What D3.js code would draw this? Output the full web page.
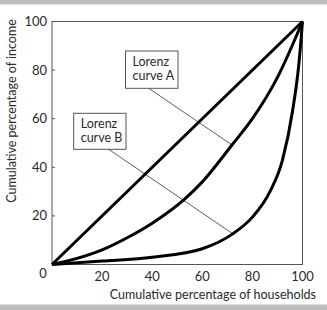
<!DOCTYPE html>
<html><head><meta charset="utf-8">
<script src="https://cdn.jsdelivr.net/npm/d3@7"></script>
<style>body{margin:0;background:#fff}svg{display:block}text{font-family:Lato, "Open Sans", sans-serif;fill:#2a2a2a}</style>
</head><body>
<script>
// Data
const yTicks = [0, 20, 40, 60, 80, 100];
const xTicks = [20, 40, 60, 80, 100];
const equality = [[0,0],[100,100]];
const curveAx = [0, 10, 20, 30, 40, 52.7, 60, 72, 80, 90, 100];
const curveAy = [0, 2.5, 6, 11, 17, 26.7, 34, 49.4, 60, 77, 100];
const curveBx = [0, 20, 40, 60, 72, 80, 87, 92, 96, 98.5, 100];
const curveBy = [0, 1.4, 3, 6.5, 12.5, 19.5, 30, 43, 63, 82, 100];
const labels = ["Lorenz", "curve A", "Lorenz", "curve B"];
const xTitle = "Cumulative percentage of households";
const yTitle = "Cumulative percentage of income";

const W = 327, H = 310;
const svg = d3.select("body").append("svg").attr("width", W).attr("height", H);
svg.append("rect").attr("x",0).attr("y",0).attr("width",W).attr("height",4.5).attr("fill","#bdbdbd");
svg.append("rect").attr("x",0).attr("y",304.5).attr("width",W).attr("height",6).attr("fill","#bdbdbd");

const x = d3.scaleLinear().domain([0,100]).range([52, 302.5]);
const y = d3.scaleLinear().domain([0,100]).range([264.5, 21.5]);

// frame
svg.append("rect").attr("x", x(0)).attr("y", y(100)).attr("width", x(100)-x(0)).attr("height", y(0)-y(100))
  .attr("fill","none").attr("stroke","#555").attr("stroke-width",1);

// y ticks (inward)
const yAxis = svg.append("g");
yAxis.selectAll("line").data(yTicks.filter(d=>d>0 && d<100)).join("line")
  .attr("x1", x(0)).attr("x2", x(0)+3).attr("y1", d=>y(d)).attr("y2", d=>y(d)).attr("stroke","#555");
yAxis.selectAll("text").data(yTicks.filter(d=>d>0)).join("text")
  .attr("x", x(0)-5).attr("y", d=>y(d)).attr("dy","0.35em").attr("text-anchor","end")
  .attr("font-size",13).text(d=>d);
svg.append("text").attr("x", 43).attr("y", 273).attr("dy","0.35em").attr("text-anchor","middle").attr("font-size",13).text(0);

// x tick labels
svg.append("g").selectAll("text").data(xTicks).join("text")
  .attr("x", d=>x(d)).attr("y", 276.5).attr("dy","0.35em").attr("text-anchor","middle")
  .attr("font-size",13).text(d=>d);

// titles
svg.append("text").attr("x", 316).attr("y", 299).attr("text-anchor","end").attr("font-size",12.5).text(xTitle);
svg.append("text").attr("transform","translate(16,111) rotate(-90)").attr("text-anchor","middle").attr("font-size",12.5).text(yTitle);

// leader lines
const leaders = [[[148.7,88.3],[232,145]],[[108.7,149.3],[232,233.3]]];
svg.append("g").selectAll("line").data(leaders).join("line")
  .attr("x1",d=>d[0][0]).attr("y1",d=>d[0][1]).attr("x2",d=>d[1][0]).attr("y2",d=>d[1][1])
  .attr("stroke","#333").attr("stroke-width",0.8);

// curves
const line = d3.line().x(d=>x(d[0])).y(d=>y(d[1])).curve(d3.curveMonotoneX);
const A = curveAx.map((v,i)=>[v, curveAy[i]]);
const B = curveBx.map((v,i)=>[v, curveBy[i]]);
[equality, A, B].forEach(dat=>{
  svg.append("path").datum(dat).attr("d", line).attr("fill","none").attr("stroke","#000")
    .attr("stroke-width",3).attr("stroke-linejoin","round");
});

// label boxes
const boxes = [
  {x0:125.5, y0:51, x1:178, y1:88.3, t:[labels[0],labels[1]]},
  {x0:73.7, y0:113.3, x1:126, y1:149.3, t:[labels[2],labels[3]]}
];
boxes.forEach(b=>{
  svg.append("rect").attr("x",b.x0).attr("y",b.y0).attr("width",b.x1-b.x0).attr("height",b.y1-b.y0)
    .attr("fill","#fff").attr("stroke","#555").attr("stroke-width",1);
  svg.append("text").attr("x", b.x0+7).attr("y", b.y0+14.5).attr("font-size",12.5).text(b.t[0]);
  svg.append("text").attr("x", b.x0+7).attr("y", b.y0+29).attr("font-size",12.5).text(b.t[1]);
});
</script>
</body></html>
